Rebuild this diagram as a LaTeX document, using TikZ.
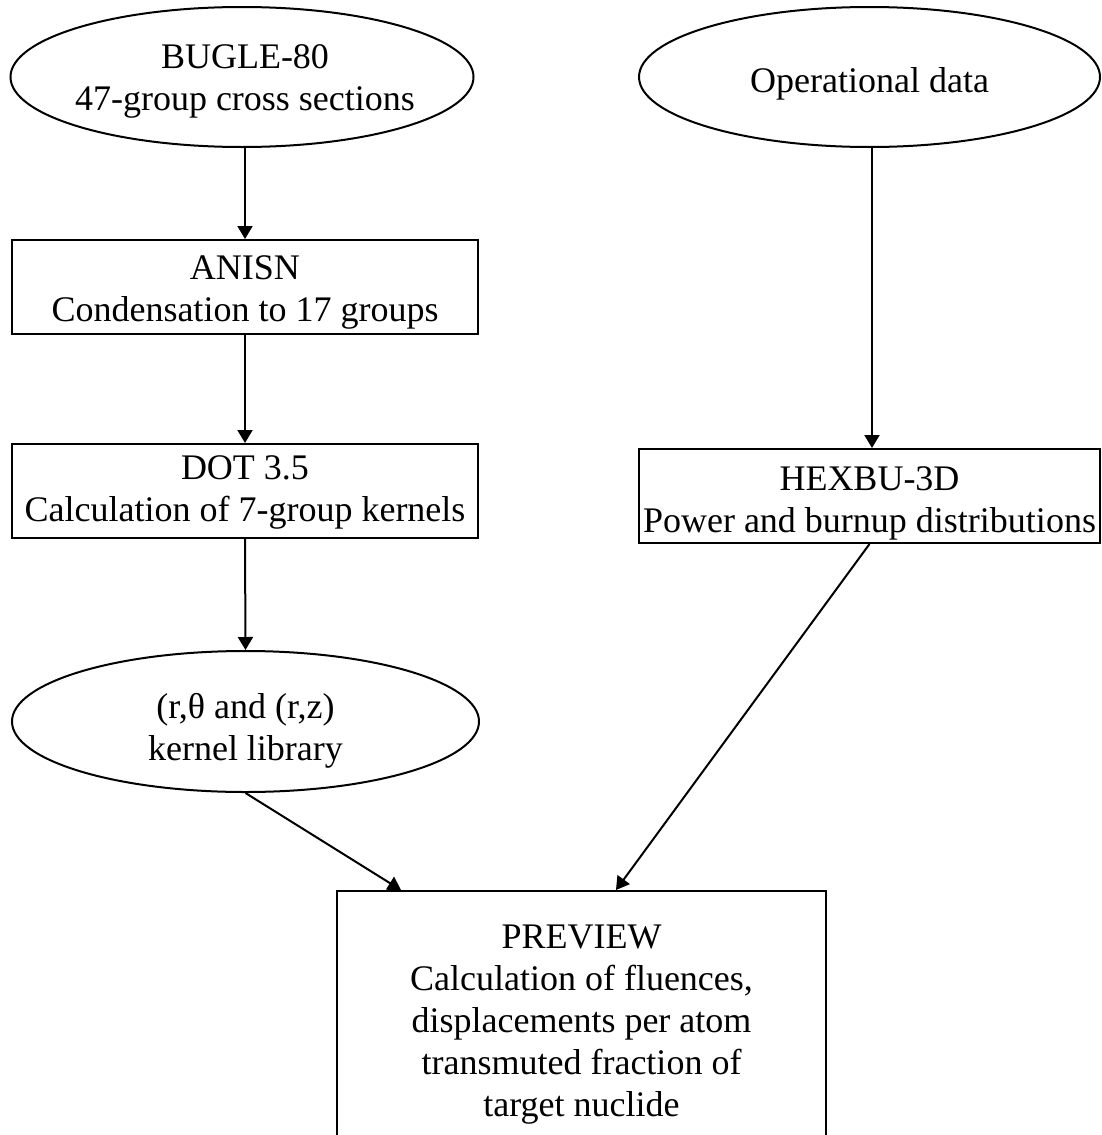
\documentclass[tikz,border=0pt]{standalone}
\usepackage{fontspec}
\setmainfont{Liberation Serif}
\usetikzlibrary{shapes.geometric,arrows.meta,calc}
\begin{document}
\begin{tikzpicture}[x=1pt,y=-1pt,
  every node/.style={font=\fontsize{36}{42}\selectfont, align=center, inner sep=0pt},
  oval/.style={draw, line width=2pt, ellipse},
  procbox/.style={draw, line width=2pt, rectangle},
  link/.style={line width=2pt, -{Triangle[width=15pt,length=13pt]}}]
\useasboundingbox (0,0) rectangle (1101,1135);
\clip (0,0) rectangle (1101,1135);
% shapes
\node[oval, minimum width=463pt, minimum height=140pt] (bugle) at (242,77) {};
\node[oval, minimum width=461pt, minimum height=140pt] (oper) at (869.5,77) {};
\node[procbox, minimum width=466pt, minimum height=94pt] (anisn) at (245,287) {};
\node[procbox, minimum width=466pt, minimum height=94pt] (dot) at (245,491) {};
\node[oval, minimum width=467pt, minimum height=141pt] (kernel) at (245.5,721.5) {};
\node[procbox, minimum width=461pt, minimum height=94pt] (hexbu) at (869.5,496) {};
\node[procbox, minimum width=489pt, minimum height=267pt] (preview) at (581.5,1024.5) {};
% texts
\node (bugleT) at ($(bugle.center)+(3,4)$) {BUGLE-80\\47-group cross sections};
\node (operT) at ($(oper.center)+(0,7)$) {Operational data};
\node (anisnT) at ($(anisn.center)+(0,5)$) {ANISN\\Condensation to 17 groups};
\node (dotT) at ($(dot.center)+(0,1)$) {DOT 3.5\\Calculation of 7-group kernels};
\node (kernelT) at ($(kernel.center)+(0,9)$) {(r,θ and (r,z)\\kernel library};
\node (hexbuT) at ($(hexbu.center)+(0,7)$) {HEXBU-3D\\Power and burnup distributions};
\node (previewT) at (preview.center) {PREVIEW\\Calculation of fluences,\\displacements per atom\\transmuted fraction of\\target nuclide};
% connectors
\coordinate (pinA) at ($(preview.north west)+(65,0)$);
\coordinate (pinB) at ($(preview.north west)+(280,0)$);
\draw[link] (bugle.south -| anisn.north) -- (anisn.north);
\draw[link] (anisn.south) -- (dot.north);
\draw[link] (dot.south) -- (kernel.north);
\draw[link] (oper.south -| 872,0) -- (hexbu.north -| 872,0);
\draw[link] (kernel.south) -- (pinA);
\draw[link] (hexbu.south) -- (pinB);
\end{tikzpicture}
\end{document}
